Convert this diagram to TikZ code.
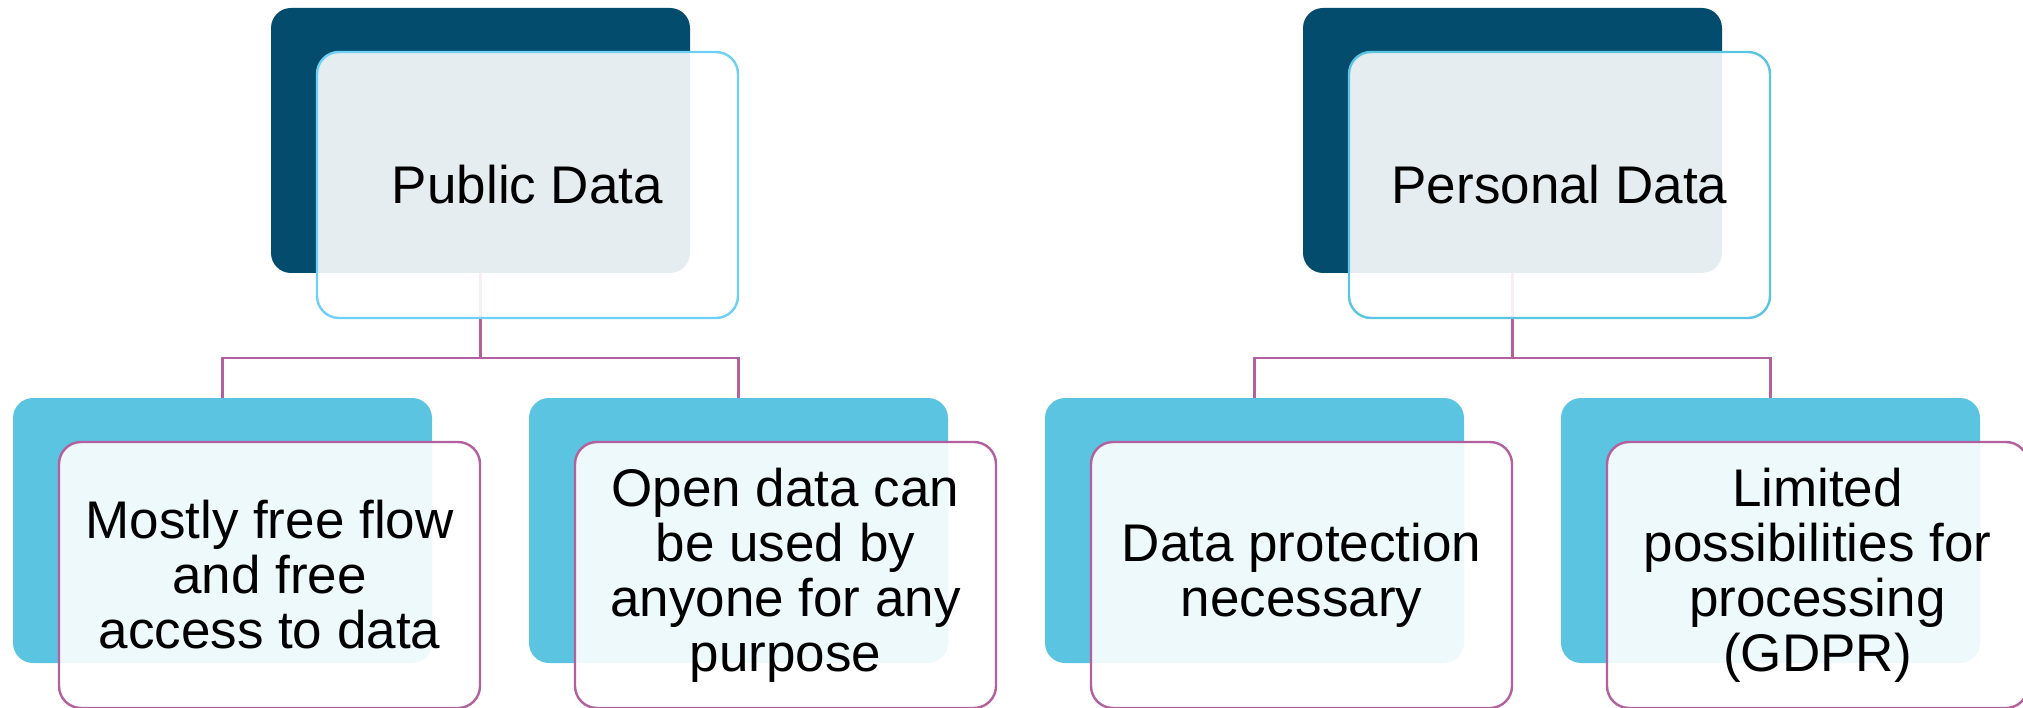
\documentclass[tikz,border=0pt]{standalone}
\usepackage{fontspec}
\setmainfont{Liberation Sans}
\definecolor{navy}{HTML}{034C6E}
\definecolor{sky}{HTML}{5BC4E0}
\definecolor{skyline}{HTML}{6FD0F6}
\definecolor{plum}{HTML}{B3609E}
\tikzset{
  backbox/.style={rectangle, rounded corners=20pt, minimum width=419pt,
    minimum height=265pt, inner sep=0pt, outer sep=0pt, draw=none},
  parentback/.style={backbox, fill=navy},
  childback/.style={backbox, fill=sky},
  frontbox/.style={rectangle, rounded corners=22pt, minimum width=421pt,
    minimum height=266pt, inner sep=0pt, outer sep=0pt, line width=2.4pt,
    fill=white, fill opacity=0.9, text opacity=1, align=center,
    font=\fontsize{53}{55}\selectfont},
  parentfront/.style={frontbox},
  childfront/.style={frontbox, draw=plum},
  conn/.style={draw=plum, line width=2.4pt, line join=miter}
}
\begin{document}
\begin{tikzpicture}[x=1pt, y=-1pt]
\useasboundingbox (0,0) rectangle (2023,708);
\clip (0,0) rectangle (2023,708);

% back layer
\node[parentback] (pLb) at (480.5,140.5) {};
\node[parentback] (pRb) at (1512.5,140.5) {};
\node[childback] (c1b) at (222.5,530.5) {};
\node[childback] (c2b) at (738.5,530.5) {};
\node[childback] (c3b) at (1254.5,530.5) {};
\node[childback] (c4b) at (1770.5,530.5) {};

% tree connectors
\coordinate (jL) at (480.5,358);
\coordinate (jR) at (1512.5,358);
\draw[conn] (pLb.south) -- (jL) -| (c1b.north);
\draw[conn] (jL) -| (c2b.north);
\draw[conn] (pRb.south) -- (jR) -| (c3b.north);
\draw[conn] (jR) -| (c4b.north);

% front layer with labels
\node[parentfront, draw=skyline] (pLf) at (527.5,185) {Public Data};
\node[parentfront, draw=sky] (pRf) at (1559.5,185) {Personal Data};
\node[childfront] (c1f) at (269.5,575) {Mostly free flow\\and free\\access to data};
\node[childfront] (c2f) at (785.5,575) {Open data can\\be used by\\anyone for any\\purpose};
\node[childfront] (c3f) at (1301.5,575) {Data protection\\necessary};
\node[childfront] (c4f) at (1817.5,575) {Limited\\possibilities for\\processing\\(GDPR)};
\end{tikzpicture}
\end{document}
